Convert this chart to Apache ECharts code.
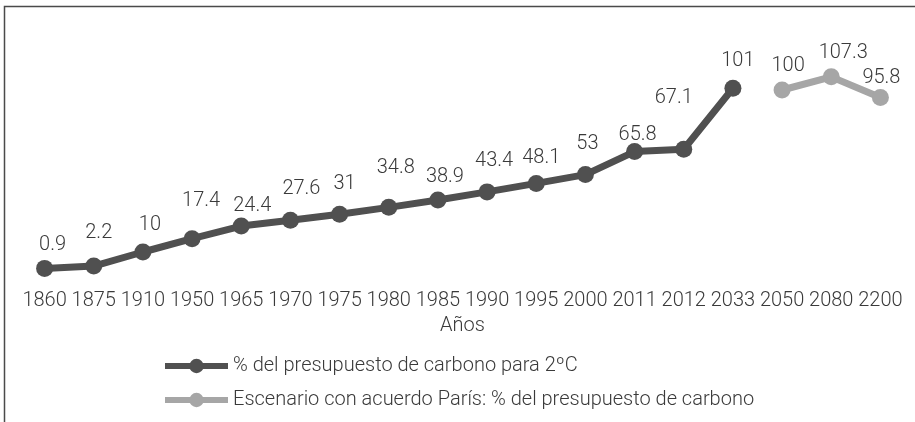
<!DOCTYPE html>
<html>
<head>
<meta charset="utf-8">
<script src="https://cdn.jsdelivr.net/npm/echarts@6/dist/echarts.min.js"></script>
<style>
  html, body { margin: 0; padding: 0; background: #fff; }
  #chart { width: 915px; height: 422px; }
</style>
</head>
<body>
<div id="chart"></div>
<script>
// datos
var years = ['1860', '1875', '1910', '1950', '1965', '1970', '1975', '1980', '1985', '1990', '1995', '2000', '2011', '2012', '2033', '2050', '2080', '2200']
var budget2C = [0.9, 2.2, 10, 17.4, 24.4, 27.6, 31, 34.8, 38.9, 43.4, 48.1, 53, 65.8, 67.1, 101, '-', '-', '-']
var paris = ['-', '-', '-', '-', '-', '-', '-', '-', '-', '-', '-', '-', '-', '-', '-', 100, 107.3, 95.8]
var seriesNames = ['% del presupuesto de carbono para 2ºC', 'Escenario con acuerdo París: % del presupuesto de carbono']

// etiquetas colocadas a mano como en el original
var labelShift = [[8, -23], [5, -33], [7, -27], [9, -38], [11, -20], [11, -31], [5, -30], [7, -39], [7, -23],
  [7, -31], [5, -25], [2, -31], [3, -17], [-10, -51], [5, -27], [6, -24], [12, -24], [1, -20]]

var txt = '#3a3a3a'
var font = 'Roboto'
var fs = 20

function withLabels(values) {
  return values.map(function(v, i) {
    if (v === '-') return v
    return { value: v, label: { offset: labelShift[i] } }
  })
}

var chart = echarts.init(document.getElementById('chart'))
chart.setOption({
  animation: false,
  textStyle: { fontFamily: font, fontWeight: 300, color: txt },
  graphic: [{
    type: 'rect',
    shape: { x: 4.5, y: 6.5, width: 1200, height: 1000 },
    style: { fill: 'none', stroke: '#4a4a4a', lineWidth: 1.5 },
    silent: true
  }],
  grid: { left: 20, right: 10, top: 54, bottom: 152 },
  legend: {
    orient: 'vertical',
    left: 157,
    top: 351,
    itemWidth: 63,
    itemHeight: 18,
    itemGap: 14,
    lineStyle: { width: 6 },
    textStyle: { fontFamily: font, fontWeight: 300, fontSize: fs, color: txt }
  },
  xAxis: {
    type: 'category',
    data: years,
    boundaryGap: true,
    axisLine: { show: false },
    axisTick: { show: false },
    axisLabel: { interval: 0, margin: 21, fontSize: fs, color: txt, fontFamily: font, fontWeight: 300 },
    name: 'Años',
    nameLocation: 'middle',
    nameGap: 44,
    nameTextStyle: { fontSize: fs, color: txt, fontFamily: font, fontWeight: 300 }
  },
  yAxis: {
    type: 'value',
    min: 0,
    max: 120,
    show: false
  },
  series: [
    {
      name: seriesNames[0],
      type: 'line',
      data: withLabels(budget2C),
      symbol: 'circle',
      symbolSize: 17,
      itemStyle: { color: '#505050' },
      lineStyle: { color: '#505050', width: 7 },
      label: { show: true, position: 'inside', fontSize: fs, color: txt, fontFamily: font, fontWeight: 300 }
    },
    {
      name: seriesNames[1],
      type: 'line',
      data: withLabels(paris),
      symbol: 'circle',
      symbolSize: 17,
      itemStyle: { color: '#a6a6a6' },
      lineStyle: { color: '#a6a6a6', width: 7 },
      label: { show: true, position: 'inside', fontSize: fs, color: txt, fontFamily: font, fontWeight: 300 }
    }
  ]
})
</script>
</body>
</html>
